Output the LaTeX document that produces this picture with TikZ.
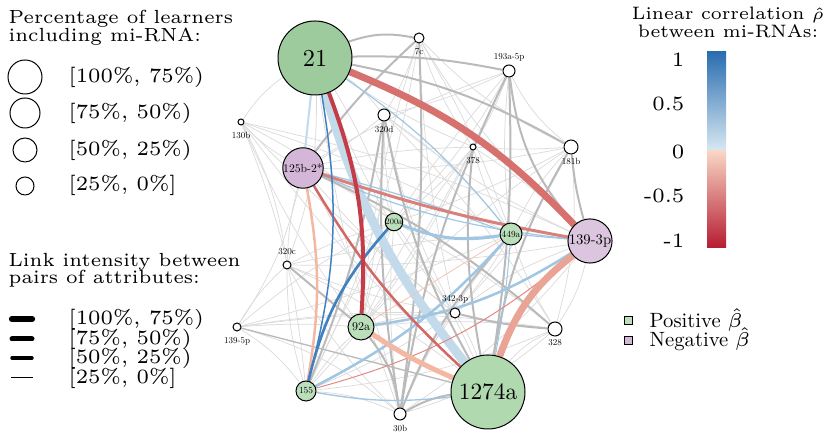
\documentclass[tikz,border=0pt]{standalone}
\usepackage{fontspec}
\newfontfamily\lmten{lmroman10-regular.otf}
\newfontfamily\lmsix{lmroman6-regular.otf}
\usetikzlibrary{backgrounds}
\definecolor{gA}{HTML}{9DCB9D}
\definecolor{gB}{HTML}{B0D9B0}
\definecolor{gC}{HTML}{BADFBA}
\definecolor{pA}{HTML}{D4B6D8}
\definecolor{pB}{HTML}{DCC5DF}
\definecolor{rStrong}{HTML}{C43C48}
\definecolor{rMed}{HTML}{D6716E}
\definecolor{rTwo}{HTML}{D9807B}
\definecolor{rThree}{HTML}{D26866}
\definecolor{rThin}{HTML}{E08A85}
\definecolor{rPale}{HTML}{F5C4B5}
\definecolor{salm}{HTML}{F3B7A2}
\definecolor{salmT}{HTML}{E9A496}
\definecolor{bStrong}{HTML}{4281C0}
\definecolor{bLight}{HTML}{9FC6E2}
\definecolor{bVLight}{HTML}{C2DAEA}
\definecolor{cbTop}{HTML}{2A6DB0}
\definecolor{cbBm}{HTML}{78ACD4}
\definecolor{cbBz}{HTML}{D8E9F2}
\definecolor{cbRz}{HTML}{F9D6C5}
\definecolor{cbRm}{HTML}{DC8482}
\definecolor{cbBot}{HTML}{B51C30}
\begin{document}
\begin{tikzpicture}[x=0.3pt,y=0.3pt,
  nd/.style={circle,draw=black,line width=0.3pt,inner sep=0pt},
  wn/.style={nd,fill=white},
  lbl/.style={inner sep=0pt,font=\lmten\fontsize{2.7}{3}\selectfont},
  ttl/.style={inner sep=0pt,font=\lmsix\fontsize{5.7}{6}\selectfont},
  cttl/.style={inner sep=0pt,font=\lmsix\fontsize{5.4}{6}\selectfont},
  ent/.style={inner sep=0pt,anchor=west,font=\lmsix\fontsize{6.1}{6.5}\selectfont},
  bent/.style={inner sep=0pt,anchor=west,font=\lmten\fontsize{6.2}{6.5}\selectfont},
  leg/.style={circle,draw=black,line width=0.3pt,inner sep=0pt,fill=white},
  lnk/.style={line width=#1,line cap=round,draw=black},
  gthin/.style={draw=black!14,line width=0.22pt},
  gthick/.style={draw=black!27,line width=0.6pt},
  ce/.style={line width=#1}
]
\useasboundingbox (0,0) rectangle (830,-443);

% ---------- network nodes ----------
\node[nd,fill=gA,minimum size=22.2pt,font=\lmten\fontsize{7.3}{7.3}\selectfont] (n21) at (315,-58) {21};
\node[nd,fill=gB,minimum size=22.2pt,font=\lmten\fontsize{7}{7}\selectfont] (n1274) at (488,-392) {1274a};
\node[nd,fill=pB,minimum size=13.2pt,font=\lmten\fontsize{4.4}{5}\selectfont] (n1393) at (590,-241) {139-3p};
\node[nd,fill=pA,minimum size=11.4pt,font=\lmten\fontsize{3.5}{4}\selectfont] (n125) at (303,-168) {125b-2*};
\node[nd,fill=gC,minimum size=7.8pt,font=\lmten\fontsize{3.6}{4}\selectfont] (n92) at (361,-327) {92a};
\node[nd,fill=gC,minimum size=6.6pt,font=\lmten\fontsize{2.8}{3}\selectfont] (n449) at (511,-234) {449a};
\node[nd,fill=gC,minimum size=6pt,font=\lmten\fontsize{2.8}{3}\selectfont] (n155) at (306,-391) {155};
\node[nd,fill=gC,minimum size=4.8pt,font=\lmten\fontsize{2.5}{3}\selectfont] (n200) at (394,-222) {200a};
\node[wn,minimum size=4.2pt] (n181) at (571,-147) {};
\node[wn,minimum size=4.2pt] (n328) at (555,-329) {};
\node[wn,minimum size=3.6pt] (n193) at (509,-71) {};
\node[wn,minimum size=3.6pt] (n320d) at (384,-115) {};
\node[wn,minimum size=3.6pt] (n30b) at (400,-414) {};
\node[wn,minimum size=3pt] (n7c) at (419,-38) {};
\node[wn,minimum size=3pt] (n342) at (455,-313) {};
\node[wn,minimum size=2.4pt] (n320c) at (287,-265) {};
\node[wn,minimum size=2.4pt] (n1395) at (237,-327) {};
\node[wn,minimum size=1.8pt] (n130) at (241,-122) {};
\node[wn,minimum size=1.8pt] (n378) at (473,-147) {};

% ---------- small labels ----------
\node[lbl] (l7c) at (419,-52) {7c};
\node[lbl] (l193) at (509,-57) {193a-5p};
\node[lbl] (l181) at (571,-161) {181b};
\node[lbl] (l130) at (241,-135) {130b};
\node[lbl] (l320d) at (384,-129) {320d};
\node[lbl] (l378) at (473,-161) {378};
\node[lbl] (l320c) at (287,-252) {320c};
\node[lbl] (l342) at (455,-299) {342-3p};
\node[lbl] (l328) at (555,-343) {328};
\node[lbl] (l1395) at (237,-341) {139-5p};
\node[lbl] (l30b) at (400,-428) {30b};

% ---------- edges ----------
\begin{scope}[on background layer]
\foreach \a/\b/\c in {n130/n21/10, n130/n125/-8, n130/n200/5, n130/n449/4, n130/n1393/6, n130/n92/-6, n130/n155/8, n130/n1274/-5, n130/n320c/10, n130/n342/-4,
 n1395/n125/-10, n1395/n320c/8, n1395/n92/4, n1395/n155/10, n1395/n30b/12, n1395/n200/6, n1395/n449/-4, n1395/n342/5, n1395/n328/8,
 n320c/n125/6, n320c/n155/-8, n320c/n449/4, n320c/n1393/-5, n320c/n1274/6, n320c/n30b/-8, n320c/n200/5, n320c/n342/-6,
 n7c/n320d/6, n7c/n378/-8, n7c/n181/-10, n7c/n449/5, n7c/n92/-6, n7c/n155/8, n7c/n342/-5, n7c/n1393/-8,
 n193/n320d/6, n193/n378/5, n193/n125/-6, n193/n200/8, n193/n449/-6, n193/n92/5, n193/n155/-8, n193/n181/-12,
 n181/n378/4, n181/n449/-8, n181/n125/6, n181/n200/5, n181/n92/-6, n181/n342/8, n181/n328/10,
 n378/n125/-5, n378/n200/6, n378/n449/-8, n378/n1393/5, n378/n92/-6, n378/n155/8,
 n320d/n125/6, n320d/n200/-5, n320d/n449/8, n320d/n1393/-6, n320d/n92/5, n320d/n342/-8, n320d/n328/6,
 n342/n1274/6, n342/n449/-5, n342/n1393/8, n342/n92/-6, n342/n155/5, n342/n30b/-8,
 n328/n1393/-10, n328/n1274/-12, n328/n449/6, n328/n155/8, n328/n30b/12, n328/n92/-6, n328/n200/-5,
 n30b/n155/-10, n30b/n200/6, n30b/n1393/-8, n30b/n449/8,
 n21/n320d/8, n21/n378/-5, n21/n200/6, n21/n342/-8, n21/n30b/-6, n21/n320c/10,
 n125/n200/5, n125/n342/-6, n125/n30b/8, n1274/n200/-6, n92/n200/4, n92/n155/-6}
  \draw[gthin] (\a) to[bend left=\c] (\b);
\foreach \a/\b/\c in {n21/n7c/15, n21/n193/6, n21/n181/9, n7c/n30b/5, n7c/n125/-5, n193/n1274/5, n193/n1393/-17, n193/n30b/-8,
 n181/n1393/-5, n181/n1274/-10, n378/n1274/-8, n320d/n1274/-9, n320d/n155/6, n320d/n30b/-6, n320c/n92/0, n92/n30b/15,
 n30b/n1274/10, n342/n328/-5, n125/n328/8, n449/n30b/-10}
  \draw[gthick] (\a) to[bend left=\c] (\b);
\draw[gthick,line width=0.4pt] (n1395) to (n1274);
% coloured links
\draw[bVLight,ce=0.6pt] (n21) to (n125);
\draw[bVLight,ce=2.7pt] (n21) to[bend right=11] (n1274);
\draw[bLight,ce=0.35pt] (n21) to[bend left=8] (n449);
\draw[bLight,ce=0.35pt] (n125) to[bend left=3] (n449);
\draw[bLight,ce=0.35pt] (n125) to[bend right=8] (n1393);
\draw[bLight,ce=0.35pt] (n449) to (n1393);
\draw[bLight,ce=0.3pt] (n1274) to[bend right=3] (n449);
\draw[bLight,ce=0.4pt] (n155) to[bend right=8] (n1274);
\draw[rPale,ce=0.25pt] (n92) to (n449);
\draw[rThin,ce=0.3pt] (n155) to[bend right=12] (n1393);
\draw[bLight,ce=0.9pt] (n200) to[bend right=15] (n449);
\draw[bLight,ce=0.75pt] (n92) to[bend right=12] (n1393);
\draw[bLight,ce=0.75pt] (n155) to[bend right=10] (n449);
\draw[salm,ce=1.5pt] (n92) to[bend right=5] (n1274);
\draw[salm,ce=0.75pt] (n125) to[bend left=10] (n155);
\draw[rThree,ce=0.75pt] (n125) to[bend right=8] (n1274);
\draw[rTwo,ce=0.9pt] (n125) to[bend right=4] (n1393);
\draw[bStrong,ce=0.45pt] (n21) to[bend left=12] (n155);
\draw[bStrong,ce=0.8pt] (n200) to[bend right=14] (n155);
\draw[salmT,ce=2.1pt] (n1274) to[bend left=16] (n1393);
\draw[rMed,ce=2.1pt] (n21) to[bend left=12] (n1393);
\draw[rStrong,ce=1.2pt] (n21) to[bend left=12] (n92);
\end{scope}

% ---------- left legend: node sizes ----------
\node[ttl,anchor=base west] (tA1) at (8,-24) {Percentage of learners};
\node[ttl,anchor=base west] (tA2) at (8,-42) {including mi-RNA:};
\node[leg,minimum size=10.2pt] (c1) at (25,-77) {};
\node[leg,minimum size=9pt] (c2) at (25,-113) {};
\node[leg,minimum size=7.2pt] (c3) at (25,-150) {};
\node[leg,minimum size=5.4pt] (c4) at (25,-186) {};
\node[ent] (e1) at (68,-77) {[100\%, 75\%)};
\node[ent] (e2) at (68,-113) {[75\%, 50\%)};
\node[ent] (e3) at (68,-150) {[50\%, 25\%)};
\node[ent] (e4) at (68,-185) {[25\%, 0\%]};

% ---------- left legend: link widths ----------
\node[ttl,anchor=base west] (tB1) at (8,-267) {Link intensity between};
\node[ttl,anchor=base west] (tB2) at (8,-284) {pairs of attributes:};
\coordinate (k1a) at (12,-319); \coordinate (k1b) at (32,-319);
\coordinate (k2a) at (12,-339); \coordinate (k2b) at (32,-339);
\coordinate (k3a) at (12,-358); \coordinate (k3b) at (32,-358);
\coordinate (k4a) at (11,-378); \coordinate (k4b) at (33,-378);
\draw[lnk=1.9pt] (k1a) -- (k1b);
\draw[lnk=1.5pt] (k2a) -- (k2b);
\draw[lnk=1.05pt] (k3a) -- (k3b);
\draw[lnk=0.3pt,line cap=butt] (k4a) -- (k4b);
\node[ent] (f1) at (68,-319) {[100\%, 75\%)};
\node[ent] (f2) at (68,-339) {[75\%, 50\%)};
\node[ent] (f3) at (68,-358) {[50\%, 25\%)};
\node[ent] (f4) at (68,-378) {[25\%, 0\%]};

% ---------- colour bar ----------
\node[cttl,anchor=base] (tC1) at (728,-20) {Linear correlation $\hat\rho$};
\node[cttl,anchor=base] (tC2) at (728,-38) {between mi-RNAs:};
\shade[top color=cbTop,middle color=cbBm,bottom color=cbBz] (707,-52) rectangle (726,-151);
\shade[top color=cbRz,middle color=cbRm,bottom color=cbBot] (707,-151) rectangle (726,-248);
\node[ent,anchor=east] (v1) at (685,-60) {1};
\node[ent,anchor=east] (v2) at (685,-104) {0.5};
\node[ent,anchor=east] (v3) at (685,-152) {0};
\node[ent,anchor=east] (v4) at (685,-196) {-0.5};
\node[ent,anchor=east] (v5) at (685,-241) {-1};

% ---------- beta legend ----------
\node[draw=black,line width=0.3pt,fill=gC,minimum size=2.4pt,inner sep=0pt] (sq1) at (628,-321) {};
\node[draw=black,line width=0.3pt,fill=pA,minimum size=2.4pt,inner sep=0pt] (sq2) at (628,-341) {};
\node[bent] (b1) at (649,-320) {Positive $\hat\beta$};
\node[bent] (b2) at (649,-339) {Negative $\hat\beta$};
\end{tikzpicture}
\end{document}
